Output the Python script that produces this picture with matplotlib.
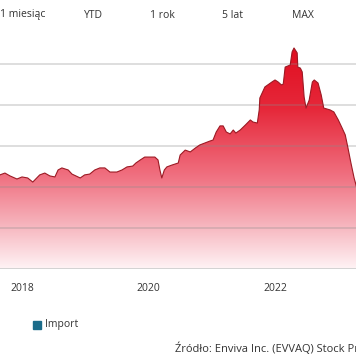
import numpy as np
import matplotlib
matplotlib.use("Agg")
import matplotlib.pyplot as plt
from matplotlib.colors import LinearSegmentedColormap
from matplotlib.patches import Rectangle

plt.rcParams['font.family'] = ['Open Sans', 'DejaVu Sans']

# Enviva stock price
years = [2017.65, 2017.73, 2017.81, 2017.92, 2018.00, 2018.09, 2018.17, 2018.28, 2018.36,
         2018.44, 2018.52, 2018.57, 2018.63, 2018.73, 2018.79, 2018.92, 2018.99, 2019.07,
         2019.15, 2019.23, 2019.31, 2019.39, 2019.50, 2019.58, 2019.66, 2019.75, 2019.80,
         2019.87, 2019.94, 2020.02, 2020.10, 2020.15, 2020.18, 2020.21, 2020.25, 2020.29,
         2020.37, 2020.47, 2020.50, 2020.58, 2020.66, 2020.74, 2020.81, 2020.97, 2021.02,
         2021.07, 2021.13, 2021.18, 2021.23, 2021.29, 2021.34, 2021.38, 2021.45, 2021.53,
         2021.61, 2021.65, 2021.72, 2021.75, 2021.76, 2021.84, 2021.95, 2022.00, 2022.05,
         2022.10, 2022.13, 2022.16, 2022.24, 2022.27, 2022.30, 2022.35, 2022.36, 2022.40,
         2022.43, 2022.46, 2022.49, 2022.54, 2022.59, 2022.62, 2022.68, 2022.73, 2022.77,
         2022.87, 2022.93, 2023.00, 2023.06, 2023.11, 2023.15, 2023.20, 2023.25, 2023.28,
         2023.34]
prices = [45.9, 46.8, 45.4, 43.9, 44.9, 44.4, 42.4, 45.9, 46.8,
          45.4, 44.9, 48.3, 49.3, 48.3, 46.3, 44.4, 45.9, 46.3,
          48.3, 49.3, 49.3, 47.3, 47.3, 48.3, 49.8, 50.2, 51.7,
          53.2, 54.6, 54.6, 54.6, 53.2, 48.3, 44.4, 48.3, 49.8,
          50.7, 51.7, 55.6, 58.0, 57.1, 59.0, 60.5, 62.4, 62.9,
          66.8, 69.8, 69.8, 66.8, 65.9, 67.8, 66.3, 67.8, 70.2,
          72.7, 71.7, 71.2, 77.6, 83.4, 88.8, 91.2, 92.2, 91.2,
          89.8, 90.2, 98.5, 99.5, 105.9, 107.8, 105.4, 98.5, 98.0,
          96.1, 83.9, 78.5, 82.4, 91.2, 92.2, 90.7, 84.9, 78.5,
          77.6, 76.6, 72.7, 68.8, 65.4, 59.5, 51.7, 44.4, 41.0,
          33.7]

x_ticks = [2018, 2020, 2022]
y_grid = [0, 20, 40, 60, 80, 100]
range_buttons = ['1 miesiąc', 'YTD', '1 rok', '5 lat', 'MAX']
button_x = [23, 93, 162, 232, 303]

fig = plt.figure(figsize=(3.56, 3.64), dpi=100)
ax = fig.add_axes([0, 1 - 269 / 364, 1, 229 / 364])
ymax = 111.7

# gradient fill clipped to the area under the curve
cmap = LinearSegmentedColormap.from_list(
    'redfade', [(0, '#fff3f5'), (0.2, '#f6b2bb'), (0.4, '#f07282'),
                (0.7, '#e6283a'), (1.0, '#df0a1c')])
grad = np.linspace(0, 1, 256).reshape(-1, 1)
im = ax.imshow(grad, cmap=cmap, origin='lower', aspect='auto',
               extent=[2017.5, 2023.5, 0, ymax], zorder=1)
poly = ax.fill_between(years, prices, 0, color='none', lw=0)
clip = poly.get_paths()[0]
im.set_clip_path(clip, transform=ax.transData)
ax.plot(years, prices, color='#9c1a24', lw=0.8, zorder=3)

for g in y_grid[1:]:
    ax.axhline(g, color='#8a8a8a', alpha=0.3, lw=1.3, zorder=2)
ax.axhline(0, color='#d0d0d0', lw=1.3, zorder=2)

for s in ax.spines.values():
    s.set_visible(False)
ax.set_xticks([])
ax.set_yticks([])
ax.set_xlim(2017.652, 2023.28)
ax.set_ylim(0, ymax)

for t in x_ticks:
    ax.text(t, -9.5, str(t), ha='center', va='center', fontsize=7.5, color='#333333')

for label, bx in zip(range_buttons, button_x):
    fig.text(bx / 356, 1 - 15 / 364, label, ha='center', va='center',
             fontsize=7.5, color='#333333')

fig.patches.append(Rectangle((33 / 356, 1 - 329 / 364), 8 / 356, 8 / 364,
                             transform=fig.transFigure, color='#1b6c8a'))
fig.text(45 / 356, 1 - 325 / 364, 'Import', ha='left', va='center',
         fontsize=7.5, color='#333333')
fig.text(175 / 356, 1 - 349 / 364, 'Źródło: Enviva Inc. (EVVAQ) Stock Price',
         ha='left', va='center', fontsize=8, color='#333333')

fig.savefig('out.png', dpi=100)
